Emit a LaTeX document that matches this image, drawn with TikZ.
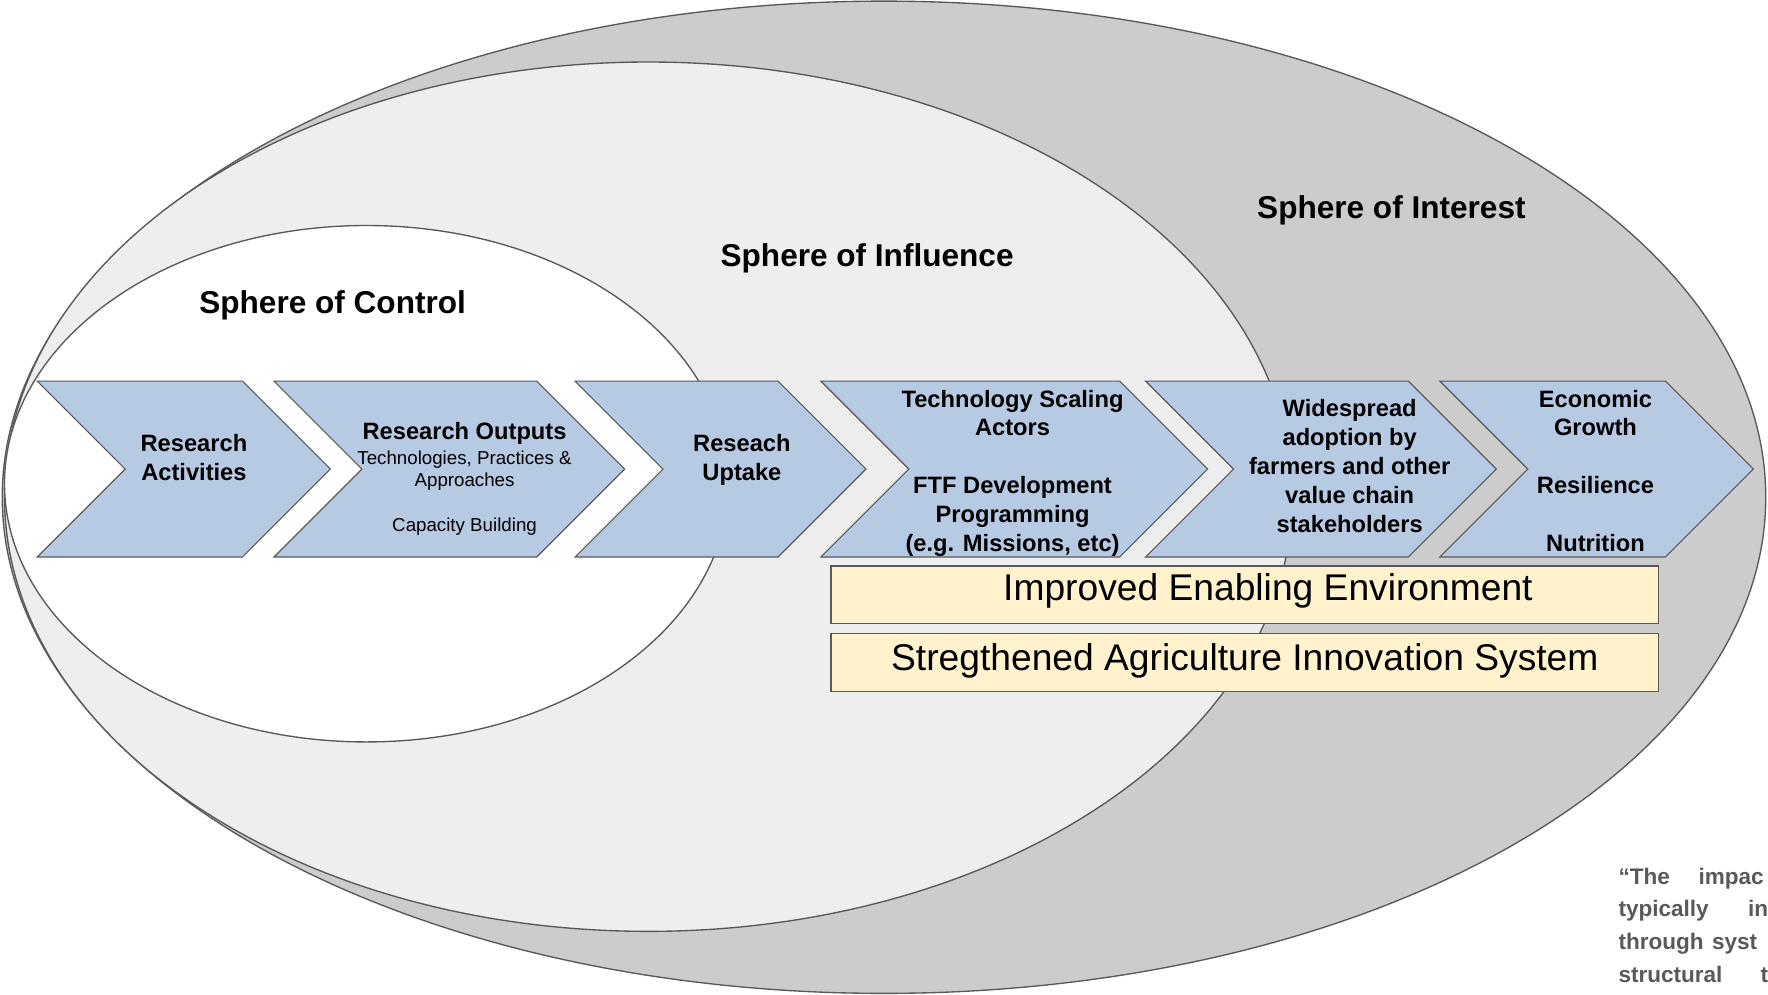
\documentclass[tikz,border=0pt]{standalone}
\usepackage{fontspec}
\setmainfont{Liberation Sans}
\definecolor{linec}{HTML}{595959}
\definecolor{interestfill}{HTML}{CCCCCC}
\definecolor{influencefill}{HTML}{EEEEEE}
\definecolor{chevblue}{RGB}{183,202,227}
\definecolor{yellowfill}{HTML}{FFF2CC}
\definecolor{quotegray}{HTML}{595959}
\newcommand{\chevshape}[2]{%
  \draw[chev] (#1,338) -- (#2,338) -- ({#2+78},416) -- (#2,494) -- (#1,494) -- ({#1+78},416) -- cycle;}
\tikzset{
  sph/.style={draw=linec, line width=0.6pt},
  chev/.style={draw=linec, fill=chevblue, line width=0.5pt, line join=miter},
  sphlabel/.style={anchor=base, inner sep=0pt, font=\fontsize{14}{17}\selectfont\bfseries},
  ctext/.style={anchor=base, align=center, inner sep=0pt, font=\fontsize{10.5}{12.8}\selectfont\bfseries},
  csub/.style={anchor=base, align=center, inner sep=0pt, font=\fontsize{8.3}{9.8}\selectfont},
  ybox/.style={draw=linec, fill=yellowfill, line width=0.6pt, minimum width=367pt, minimum height=25.5pt, inner sep=0pt},
  ytext/.style={anchor=base, inner sep=0pt, font=\fontsize{16.5}{19}\selectfont},
  qtext/.style={anchor=base west, inner sep=0pt, text=quotegray, font=\fontsize{10}{14}\selectfont\bfseries},
}
\begin{document}
\begin{tikzpicture}[x=0.5pt,y=-0.5pt]
\useasboundingbox (0,0) rectangle (1568,882);
\clip (0,0) rectangle (1568,882);
% spheres
\draw[sph, fill=interestfill] (784,441) ellipse [x radius=391pt, y radius=220pt];
\draw[sph, fill=influencefill] (575,440.5) ellipse [x radius=285.5pt, y radius=192.75pt];
\draw[sph, fill=white] (325,429) ellipse [x radius=160.5pt, y radius=114.5pt];
\node[sphlabel] (soc) at (295,278) {Sphere of Control};
\node[sphlabel] (sofl) at (769,236) {Sphere of Influence};
\node[sphlabel] (sotr) at (1234,194) {Sphere of Interest};
% chevrons
\chevshape{33}{215}
\chevshape{243}{476}
\chevshape{510}{690}
\chevshape{728}{993}
\chevshape{1016}{1249}
\chevshape{1277}{1477}
% (base anchor of a multi-line node = baseline of its last line)
\node[ctext] (c1) at (172,426) {Research\\Activities};
\node[ctext] (c2) at (412,390) {Research Outputs};
\node[csub] (c2s) at (412,471) {Technologies, Practices \&\\Approaches\\[9.8pt]Capacity Building};
\node[ctext] (c3) at (658,426) {Reseach\\Uptake};
\node[ctext] (c4) at (898,489) {Technology Scaling\\Actors\\[12.8pt]FTF Development\\Programming\\(e.g. Missions, etc)};
\node[ctext] (c5) at (1197,472) {Widespread\\adoption by\\farmers and other\\value chain\\stakeholders};
\node[ctext] (c6) at (1415,489) {Economic\\Growth\\[12.8pt]Resilience\\[12.8pt]Nutrition};
% enabling boxes
\node[ybox] (env) at (1104,527.5) {};
\node[ytext] (envt) at (1124.5,533) {Improved Enabling Environment};
\node[ybox] (ais) at (1104,587.5) {};
\node[ytext] (aist) at (1104,595) {Stregthened Agriculture Innovation System};
% quote fragment
\node[qtext] (q1a) at (1435,784) {“The};
\node[qtext] (q1b) at (1506,784) {impac};
\node[qtext] (q2a) at (1435,813) {typically};
\node[qtext] (q2b) at (1550,813) {in};
\node[qtext] (q3a) at (1435,842) {through};
\node[qtext] (q3b) at (1518,842) {syst};
\node[qtext] (q4a) at (1435,871) {structural};
\node[qtext] (q4b) at (1561,871) {t};
\end{tikzpicture}
\end{document}
